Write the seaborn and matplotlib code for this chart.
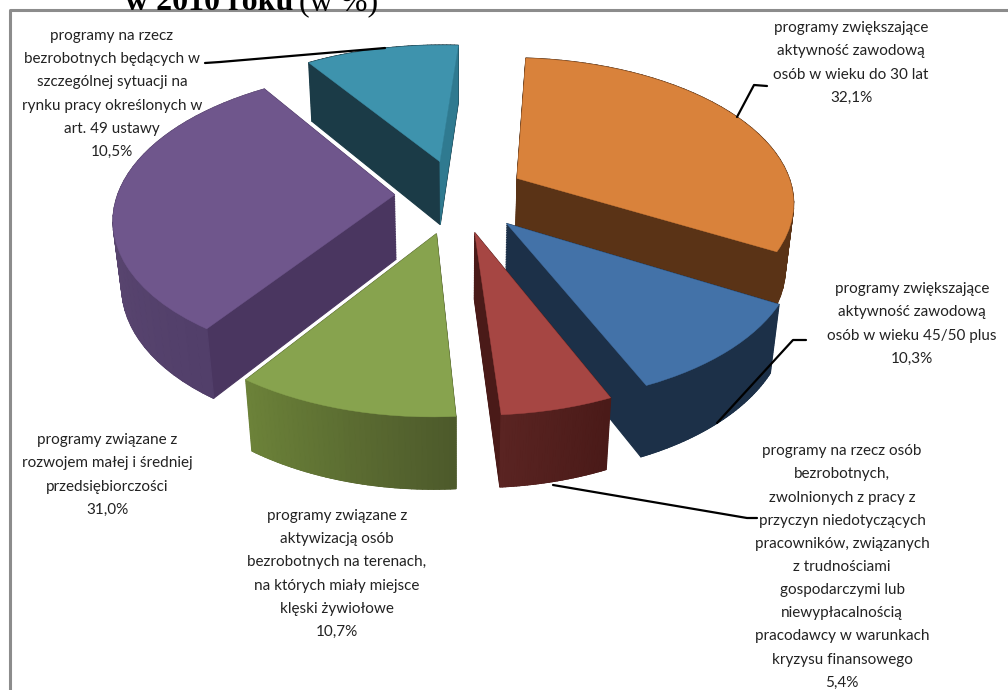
import numpy as np
import matplotlib
matplotlib.use('Agg')
import matplotlib.pyplot as plt
import matplotlib.transforms as mtransforms
from matplotlib.collections import PolyCollection
from matplotlib.colors import to_rgb
import seaborn as sns

# Udzial programow (w %)
wartosci = [32.1, 10.3, 5.4, 10.7, 31.0, 10.5]
etykiety = [
    'programy zwiększające\naktywność zawodową\nosób w wieku do 30 lat\n32,1%',
    'programy zwiększające\naktywność zawodową\nosób w wieku 45/50 plus\n10,3%',
    'programy na rzecz osób\nbezrobotnych,\nzwolnionych z pracy z\nprzyczyn niedotyczących\npracowników, związanych\nz trudnościami\ngospodarczymi lub\nniewypłacalnością\npracodawcy w warunkach\nkryzysu finansowego\n5,4%',
    'programy związane z\naktywizacją osób\nbezrobotnych na terenach,\nna których miały miejsce\nklęski żywiołowe\n10,7%',
    'programy związane z\nrozwojem małej i średniej\nprzedsiębiorczości\n31,0%',
    'programy na rzecz\nbezrobotnych będących w\nszczególnej sytuacji na\nrynku pracy określonych w\nart. 49 ustawy\n10,5%',
]

# Style
kolory_gora = ['#D9823B', '#4372A8', '#A64643', '#87A34E', '#6F568C', '#3E93AD']
kolory_bok = ['#5A3316', '#1C3048', '#4A1A18', '#4D5A2B', '#4A3660', '#1B3B47']
# kolor obrzeza na poczatku i na koncu luku (theta1, theta2)
obrzeze_od = ['#5A3316', '#1C3048', '#5A2422', '#6C8239', '#645078', '#1B3B47']
obrzeze_do = ['#5A3316', '#1C3048', '#4A1A18', '#4D5A2B', '#523F6A', '#1B3B47']
wysuniecie = [0.25, 0.26, 0.26, 0.27, 0.225, 0.25]
kolejnosc = [3, 4, 6, 5, 2, 1]
pozycje_etykiet = [(851, 63), (912, 324), (842, 567), (337, 574), (107, 475), (112, 94)]
odnosniki = [
    [(737, 117), (754, 85), (767, 86)],
    [(717, 423), (793, 340), (806, 340)],
    [(553, 485), (747, 518), (757, 518)],
    [(385, 48), (220, 62), (205, 63)],
]

CX, CY, RX, RY, PERSP, GLEB = 457, 195, 277, 143, 0.149, 66
KAT_START = 86


def rzut(xy, z=0.0):
    x, y = xy[:, 0], xy[:, 1]
    w = 1 + PERSP * y + 0.025 * z
    return np.column_stack([CX + RX * x / w, CY + (-RY * y + GLEB * z) / w])


class Rzut(mtransforms.Transform):
    """Rzut perspektywiczny kola (promien 1) na piksele obrazka."""
    input_dims = 2
    output_dims = 2

    def __init__(self, z=0.0):
        super().__init__()
        self.z = z

    def transform_non_affine(self, values):
        return rzut(values, self.z)


sns.set_theme(style='white')
plt.rcParams['font.family'] = ['Lato', 'DejaVu Sans']

fig = plt.figure(figsize=(10.08, 6.9), dpi=100)
ax = fig.add_axes([0, 0, 1, 1])

# Warstwy bryly, od dolu do gory
warstwy = np.linspace(1, 0, 40)
for nr, z in enumerate(warstwy):
    wedges, _ = ax.pie(wartosci, explode=wysuniecie, startangle=KAT_START, counterclock=False,
                       colors=kolory_bok, wedgeprops={'linewidth': 0.8})
    for w, kol, k in zip(wedges, kolory_bok, kolejnosc):
        w.set_edgecolor(kol)
        w.set_transform(Rzut(z) + ax.transData)
        w.set_zorder(k + nr * 0.001)

wedges, _ = ax.pie(wartosci, explode=wysuniecie, startangle=KAT_START, counterclock=False,
                   colors=kolory_gora, wedgeprops={'linewidth': 0.3})
for w, kol, k, od, do in zip(wedges, kolory_gora, kolejnosc, obrzeze_od, obrzeze_do):
    w.set_edgecolor(kol)
    w.set_transform(Rzut(0) + ax.transData)
    w.set_zorder(k + 0.5)

    # Obrzeze z przejsciem koloru
    katy = np.radians(np.linspace(w.theta1, w.theta2, 41))
    luk = np.column_stack([w.center[0] + w.r * np.cos(katy), w.center[1] + w.r * np.sin(katy)])
    gora, dol = rzut(luk, 0), rzut(luk, 1)
    pasy = [[gora[i], gora[i + 1], dol[i + 1], dol[i]] for i in range(40)]
    t = np.linspace(0, 1, 40)[:, None]
    barwy = (1 - t) * np.array(to_rgb(od)) + t * np.array(to_rgb(do))
    ax.add_collection(PolyCollection(pasy, facecolors=barwy, edgecolors=barwy, linewidths=1.0, zorder=k + 0.3),
                      autolim=False)

# Jasniejsza scianka prawej krawedzi ostatniego wycinka
w = wedges[5]
kat = np.radians(w.theta1)
krawedz = np.array([w.center, [w.center[0] + w.r * np.cos(kat), w.center[1] + w.r * np.sin(kat)]])
scianka = np.vstack([rzut(krawedz, 0), rzut(krawedz, 1)[::-1]])
ax.fill(scianka[:, 0], scianka[:, 1], color='#2F7A90', lw=0.3, zorder=kolejnosc[5] + 0.3)

ax.set_aspect('auto')
ax.set_xlim(0, 1008)
ax.set_ylim(690, 0)
ax.axis('off')

for tekst, (x, y) in zip(etykiety, pozycje_etykiet):
    ax.text(x, y, tekst, ha='center', va='center', fontsize=11, color='#222222',
            linespacing=1.83, zorder=20)

for linia in odnosniki:
    xs, ys = zip(*linia)
    ax.plot(xs, ys, color='black', lw=1.6, zorder=10)

# Ramka wykresu
ax.plot([9.5, 9.5, 1008], [690, 9.5, 9.5], color='#8C8C8C', lw=2.2, zorder=1, clip_on=False)

# Ucieta koncowka tytulu
ax.text(125, 10, 'w 2010 roku', family='Liberation Serif', fontweight='bold', fontsize=23, color='black', va='baseline')
ax.text(378, 10, '(w %)', family='Liberation Serif', fontsize=23, color='black', va='baseline', ha='right')

fig.savefig('out.png', dpi=100)
